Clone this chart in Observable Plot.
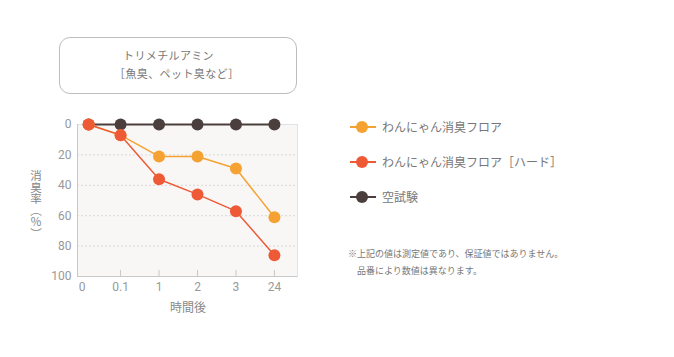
<!DOCTYPE html>
<html>
<head>
<meta charset="utf-8">
<script src="https://cdn.jsdelivr.net/npm/d3@7"></script>
<script src="https://cdn.jsdelivr.net/npm/@observablehq/plot@0.6"></script>
<style>
  html, body { margin: 0; padding: 0; background: #fff; }
  #wrap { position: relative; width: 674px; height: 357px; overflow: hidden;
          font-family: "Noto Sans CJK JP", "Noto Sans", sans-serif; color: #777; }
  #chart { position: absolute; left: 0; top: 0; }
  #box { position: absolute; left: 59px; top: 37px; width: 238px; height: 57px;
         border: 1px solid #bdbdbd; border-radius: 11px; box-sizing: border-box; }
  .boxline { position: absolute; font-size: 11px; letter-spacing: 0.4px; color: #777; line-height: 1; white-space: nowrap; }
  .leg { position: absolute; left: 350px; height: 14px; }
  .leg .ln { position: absolute; left: 0; top: 6px; width: 26px; height: 2px; }
  .leg .dt { position: absolute; left: 6px; top: 1px; width: 12px; height: 12px; border-radius: 50%; }
  .leg .tx { position: absolute; left: 32px; top: -1px; font-size: 12px; color: #777; white-space: nowrap; line-height: 16px; }
  .note { position: absolute; font-size: 9px; color: #777; line-height: 1; white-space: nowrap; }
  #ytitle { position: absolute; left: 29px; top: 170px; color: #888; font-size: 11.5px; line-height: 14px;
            writing-mode: vertical-rl; text-orientation: upright; white-space: nowrap; }
  #xtitle { position: absolute; left: 170px; top: 300px; font-size: 12px; color: #888; line-height: 14px; white-space: nowrap; }
</style>
</head>
<body>
<div id="wrap">
  <div id="chart"></div>
  <div id="box"></div>
  <div class="boxline" style="left:123px; top:50px;">トリメチルアミン</div>
  <div class="boxline" style="left:114px; top:68px;">［魚臭、ペット臭など］</div>
  <div id="legend"></div>
  <div class="note" style="left:348px; top:249px;">※上記の値は測定値であり、保証値ではありません。</div>
  <div class="note" style="left:357px; top:266px;">品番により数値は異なります。</div>
  <div id="ytitle">消臭率︵％︶</div>
  <div id="xtitle">時間後</div>
</div>
<script>
// ---- data ----
const timeLabels = ["0", "0.1", "1", "2", "3", "24"];   // x tick labels (hours)
const tickSlots  = [0, 1, 2, 3, 4, 5];                  // ordinal slot of each tick label
const dataSlots  = [0.17, 1, 2, 3, 4, 5];               // slot where each measurement is drawn
const seriesNames = ["空試験", "わんにゃん消臭フロア", "わんにゃん消臭フロア［ハード］"];
const blankValues = [0, 0, 0, 0, 0, 0];
const floorValues = [0, 7, 21, 21, 29, 61];
const hardValues  = [0, 7, 36, 46, 57, 86];
const yTicks = [0, 20, 40, 60, 80, 100];
const gridTicks = [20, 40, 60, 80];
const colors = { "空試験": "#4a3f3c", "わんにゃん消臭フロア": "#f5a232", "わんにゃん消臭フロア［ハード］": "#ee5a36" };
const legendOrder = ["わんにゃん消臭フロア", "わんにゃん消臭フロア［ハード］", "空試験"];

const valuesBySeries = [blankValues, floorValues, hardValues];
const rows = [];
seriesNames.forEach((s, i) => valuesBySeries[i].forEach((v, j) => rows.push({ series: s, slot: dataSlots[j], value: v })));

const xDomain = [-0.12, 5.6];
const chart = Plot.plot({
  width: 674,
  height: 357,
  marginLeft: 77,
  marginRight: 377,
  marginTop: 124,
  marginBottom: 81,
  style: { fontFamily: "Roboto, 'Noto Sans', sans-serif", fontSize: "12px", color: "#999", background: "transparent" },
  x: { domain: xDomain, axis: null },
  y: { domain: [0, 100], reverse: true, axis: null },
  marks: [
    Plot.frame({ fill: "#f8f7f5", stroke: "#e2e2e2" }),
    Plot.ruleY(gridTicks, { stroke: "#d8d8d8", strokeDasharray: "2,2", strokeWidth: 1 }),
    Plot.ruleX([xDomain[0]], { stroke: "#c8c8c8" }),
    Plot.ruleY([100], { stroke: "#c8c8c8" }),
    Plot.ruleX(tickSlots.slice(1), { y1: 96, y2: 100, stroke: "#c8c8c8" }),
    Plot.axisY({ ticks: yTicks, tickSize: 0, tickPadding: 6, fill: "#999", fontSize: 12, label: null }),
    Plot.axisX({ ticks: tickSlots, tickFormat: (d) => timeLabels[d], tickSize: 0, tickPadding: 6, fill: "#999", fontSize: 12, anchor: "bottom", label: null }),
    Plot.line(rows.filter(d => d.series === "空試験"), { x: "slot", y: "value", stroke: colors["空試験"], strokeWidth: 2.2 }),
    Plot.dot(rows.filter(d => d.series === "空試験"), { x: "slot", y: "value", r: 6, fill: colors["空試験"] }),
    Plot.line(rows.filter(d => d.series === "わんにゃん消臭フロア"), { x: "slot", y: "value", stroke: colors["わんにゃん消臭フロア"], strokeWidth: 1.5 }),
    Plot.dot(rows.filter(d => d.series === "わんにゃん消臭フロア"), { x: "slot", y: "value", r: 6, fill: colors["わんにゃん消臭フロア"] }),
    Plot.line(rows.filter(d => d.series === "わんにゃん消臭フロア［ハード］"), { x: "slot", y: "value", stroke: colors["わんにゃん消臭フロア［ハード］"], strokeWidth: 1.5 }),
    Plot.dot(rows.filter(d => d.series === "わんにゃん消臭フロア［ハード］"), { x: "slot", y: "value", r: 6, fill: colors["わんにゃん消臭フロア［ハード］"] })
  ]
});
document.getElementById("chart").appendChild(chart);

// legend
const legend = document.getElementById("legend");
legendOrder.forEach((s, i) => {
  const item = document.createElement("div");
  item.className = "leg";
  item.style.top = (120 + i * 35) + "px";
  item.innerHTML = `<div class="ln" style="background:${colors[s]}"></div><div class="dt" style="background:${colors[s]}"></div><div class="tx">${s}</div>`;
  legend.appendChild(item);
});
</script>
</body>
</html>
